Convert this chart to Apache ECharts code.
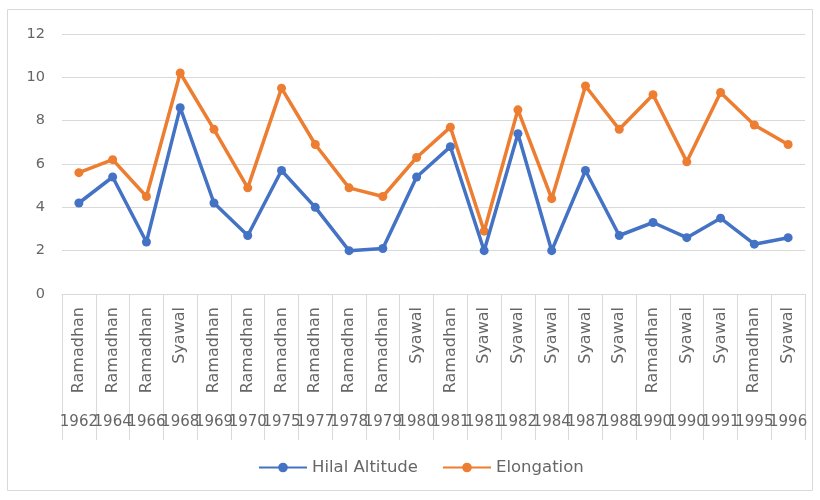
<!DOCTYPE html>
<html>
<head>
<meta charset="utf-8">
<script src="https://cdn.jsdelivr.net/npm/echarts@6/dist/echarts.min.js"></script>
<style>
  html, body { margin: 0; padding: 0; background: #fff; }
  #chart { width: 820px; height: 500px; }
</style>
</head>
<body>
<div id="chart"></div>
<script>
// Observation years and month type (two-level category axis)
const years = ['1962','1964','1966','1968','1969','1970','1975','1977','1978','1979','1980',
               '1981','1981','1982','1984','1987','1988','1990','1990','1991','1995','1996'];
const months = ['Ramadhan','Ramadhan','Ramadhan','Syawal','Ramadhan','Ramadhan','Ramadhan','Ramadhan',
                'Ramadhan','Ramadhan','Syawal','Ramadhan','Syawal','Syawal','Syawal','Syawal','Syawal',
                'Ramadhan','Syawal','Syawal','Ramadhan','Syawal'];

// Values in degrees
const hilalAltitude = [4.2, 5.4, 2.4, 8.6, 4.2, 2.7, 5.7, 4.0, 2.0, 2.1, 5.4,
                       6.8, 2.0, 7.4, 2.0, 5.7, 2.7, 3.3, 2.6, 3.5, 2.3, 2.6];
const elongation    = [5.6, 6.2, 4.5, 10.2, 7.6, 4.9, 9.5, 6.9, 4.9, 4.5, 6.3,
                       7.7, 2.9, 8.5, 4.4, 9.6, 7.6, 9.2, 6.1, 9.3, 7.8, 6.9];

const yTicks = { min: 0, max: 12, interval: 2 };

const textColor = '#666666';
const lineColor = '#d9d9d9';
const font = 'DejaVu Sans';

const chart = echarts.init(document.getElementById('chart'), null, { renderer: 'canvas' });

chart.setOption({
  animation: false,
  textStyle: { fontFamily: font, color: textColor },
  graphic: [{
    type: 'rect',
    shape: { x: 7.5, y: 9.5, width: 805, height: 481 },
    style: { fill: 'none', stroke: lineColor, lineWidth: 1 },
    silent: true
  }],
  grid: { left: 62, right: 15, top: 34, bottom: 206, containLabel: false },
  legend: {
    top: 454,
    left: 253,
    itemWidth: 48,
    itemHeight: 12,
    itemGap: 24,
    textStyle: { fontFamily: font, fontSize: 16.5, color: textColor },
    data: ['Hilal Altitude', 'Elongation']
  },
  xAxis: [
    {
      type: 'category',
      data: months,
      position: 'bottom',
      boundaryGap: true,
      axisLine: { show: true, lineStyle: { color: lineColor, width: 1 } },
      axisTick: { show: true, interval: 0, length: 146, alignWithLabel: false,
                  lineStyle: { color: lineColor, width: 1 } },
      axisLabel: { interval: 0, rotate: 90, margin: 13, fontFamily: font, fontSize: 16,
                   color: textColor, hideOverlap: false }
    },
    {
      type: 'category',
      data: years,
      position: 'bottom',
      offset: 0,
      boundaryGap: true,
      axisLine: { show: false },
      axisTick: { show: false },
      axisLabel: { interval: 0, margin: 121, fontFamily: font, fontSize: 15,
                   color: textColor, hideOverlap: false }
    }
  ],
  yAxis: {
    type: 'value',
    min: yTicks.min,
    max: yTicks.max,
    interval: yTicks.interval,
    axisLine: { show: false },
    axisTick: { show: false },
    axisLabel: { margin: 17, fontFamily: font, fontSize: 14.5, color: textColor },
    splitLine: { show: true, lineStyle: { color: lineColor, width: 1 } }
  },
  series: [
    {
      name: 'Hilal Altitude',
      type: 'line',
      data: hilalAltitude,
      xAxisIndex: 0,
      color: '#4472C4',
      symbol: 'circle',
      symbolSize: 9,
      lineStyle: { width: 3.5, color: '#4472C4' },
      itemStyle: { color: '#4472C4' },
      z: 3
    },
    {
      name: 'Elongation',
      type: 'line',
      data: elongation,
      xAxisIndex: 0,
      color: '#ED7D31',
      symbol: 'circle',
      symbolSize: 9,
      lineStyle: { width: 3.5, color: '#ED7D31' },
      itemStyle: { color: '#ED7D31' },
      z: 2
    }
  ]
});
</script>
</body>
</html>
